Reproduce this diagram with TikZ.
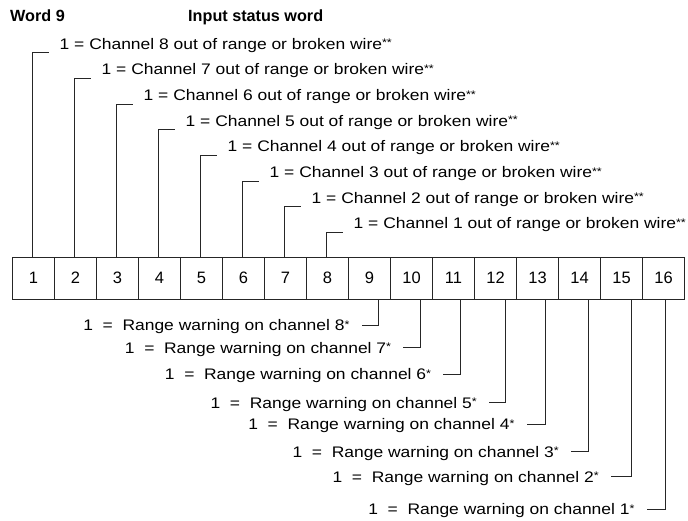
\documentclass[tikz,border=0pt]{standalone}
\usepackage{fontspec}
\setmainfont{Liberation Sans}
\newfontfamily\widefont[FakeStretch=1.14]{Liberation Sans}
\usepackage{tikz}
\newcommand{\fnmark}[1]{\raisebox{2.5pt}{\fontsize{11}{11}\selectfont #1}}
\tikzset{
  cell/.style={rectangle,draw=black!85,line width=0.7pt,minimum width=42pt,
    minimum height=42pt,inner sep=0pt,font=\fontsize{16.5}{16.5}\selectfont},
  upper/.style={anchor=base west,inner sep=0pt,font=\widefont\fontsize{15.3}{15.3}\selectfont},
  lower/.style={anchor=base east,inner sep=0pt,font=\widefont\fontsize{15.3}{15.3}\selectfont},
  title/.style={anchor=base west,inner sep=0pt,font=\bfseries\fontsize{16.2}{16.2}\selectfont},
  lead/.style={draw=black!85,line width=0.7pt}
}

\begin{document}
\begin{tikzpicture}[x=1pt,y=-1pt]
  \useasboundingbox (0,0) rectangle (688,521);
  \node[title] (word) at (10,21.7) {Word 9};
  \node[title] (head) at (188,21.7) {Input status word};
  % bit cells
  \node[cell] (b1) at (33.5,278) {1};
  \node[cell] (b2) at (75.5,278) {2};
  \node[cell] (b3) at (117.5,278) {3};
  \node[cell] (b4) at (159.5,278) {4};
  \node[cell] (b5) at (201.5,278) {5};
  \node[cell] (b6) at (243.5,278) {6};
  \node[cell] (b7) at (285.5,278) {7};
  \node[cell] (b8) at (327.5,278) {8};
  \node[cell] (b9) at (369.5,278) {9};
  \node[cell] (b10) at (411.5,278) {10};
  \node[cell] (b11) at (453.5,278) {11};
  \node[cell] (b12) at (495.5,278) {12};
  \node[cell] (b13) at (537.5,278) {13};
  \node[cell] (b14) at (579.5,278) {14};
  \node[cell] (b15) at (621.5,278) {15};
  \node[cell] (b16) at (663.5,278) {16};
  % broken wire flags
  \node[upper] (u1) at (59.5,49.3) {1 = Channel 8 out of range or broken wire\fnmark{**}};
  \node[upper] (u2) at (101.5,75) {1 = Channel 7 out of range or broken wire\fnmark{**}};
  \node[upper] (u3) at (143.5,100.6) {1 = Channel 6 out of range or broken wire\fnmark{**}};
  \node[upper] (u4) at (185.5,126.3) {1 = Channel 5 out of range or broken wire\fnmark{**}};
  \node[upper] (u5) at (227.5,151.9) {1 = Channel 4 out of range or broken wire\fnmark{**}};
  \node[upper] (u6) at (269.5,177.6) {1 = Channel 3 out of range or broken wire\fnmark{**}};
  \node[upper] (u7) at (311.5,203.3) {1 = Channel 2 out of range or broken wire\fnmark{**}};
  \node[upper] (u8) at (353.5,228.9) {1 = Channel 1 out of range or broken wire\fnmark{**}};
  % range warnings
  \node[lower] (l9) at (349.7,330.6) {1 \ = \ Range warning on channel 8\fnmark{*}};
  \node[lower] (l10) at (391.3,353.3) {1 \ = \ Range warning on channel 7\fnmark{*}};
  \node[lower] (l11) at (431.3,379.6) {1 \ = \ Range warning on channel 6\fnmark{*}};
  \node[lower] (l12) at (477,408.1) {1 \ = \ Range warning on channel 5\fnmark{*}};
  \node[lower] (l13) at (514.7,429.6) {1 \ = \ Range warning on channel 4\fnmark{*}};
  \node[lower] (l14) at (559,457.3) {1 \ = \ Range warning on channel 3\fnmark{*}};
  \node[lower] (l15) at (599,482.3) {1 \ = \ Range warning on channel 2\fnmark{*}};
  \node[lower] (l16) at (634.7,514.9) {1 \ = \ Range warning on channel 1\fnmark{*}};
  \draw[lead] ([xshift=-1.5pt]b1.north) |- ([xshift=-11pt,yshift=-3.4pt]u1.base west);
  \draw[lead] ([xshift=-1.5pt]b2.north) |- ([xshift=-11pt,yshift=-3.4pt]u2.base west);
  \draw[lead] ([xshift=-1.5pt]b3.north) |- ([xshift=-11pt,yshift=-3.4pt]u3.base west);
  \draw[lead] ([xshift=-1.5pt]b4.north) |- ([xshift=-11pt,yshift=-3.4pt]u4.base west);
  \draw[lead] ([xshift=-1.5pt]b5.north) |- ([xshift=-11pt,yshift=-3.4pt]u5.base west);
  \draw[lead] ([xshift=-1.5pt]b6.north) |- ([xshift=-11pt,yshift=-3.4pt]u6.base west);
  \draw[lead] ([xshift=-1.5pt]b7.north) |- ([xshift=-11pt,yshift=-3.4pt]u7.base west);
  \draw[lead] ([xshift=-1.5pt]b8.north) |- ([xshift=-11pt,yshift=-3.4pt]u8.base west);
  \draw[lead] ([xshift=8.8pt]b9.south) |- ([xshift=12pt,yshift=5.6pt]l9.base east);
  \draw[lead] ([xshift=8.5pt]b10.south) |- ([xshift=12pt,yshift=5.6pt]l10.base east);
  \draw[lead] ([xshift=6.5pt]b11.south) |- ([xshift=12pt,yshift=5.6pt]l11.base east);
  \draw[lead] ([xshift=10.2pt]b12.south) |- ([xshift=12pt,yshift=5.6pt]l12.base east);
  \draw[lead] ([xshift=8.2pt]b13.south) |- ([xshift=12pt,yshift=5.6pt]l13.base east);
  \draw[lead] ([xshift=8.8pt]b14.south) |- ([xshift=12pt,yshift=5.6pt]l14.base east);
  \draw[lead] ([xshift=10.2pt]b15.south) |- ([xshift=12pt,yshift=5.6pt]l15.base east);
  \draw[lead] ([xshift=2.2pt]b16.south) |- ([xshift=12pt,yshift=5.6pt]l16.base east);
\end{tikzpicture}
\end{document}
